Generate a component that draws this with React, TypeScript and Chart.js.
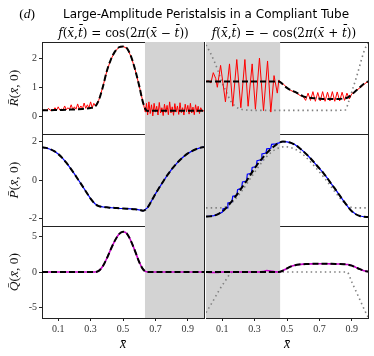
import React, { useEffect, useRef } from "react";
import { Chart, registerables } from "chart.js";
Chart.register(...registerables);

const W = 374;
const H = 356;

// shared x grid
const X25 = [
  0, 0.025, 0.05, 0.075, 0.1, 0.125, 0.15, 0.175, 0.2, 0.225, 0.25, 0.275, 0.3, 0.325,
  0.35, 0.375, 0.4, 0.425, 0.45, 0.475, 0.5, 0.525, 0.55, 0.575, 0.6, 0.625, 0.65,
  0.675, 0.7, 0.725, 0.75, 0.775, 0.8, 0.825, 0.85, 0.875, 0.9, 0.925, 0.95, 0.975, 1,
];
const X_TICKS = [0.1, 0.3, 0.5, 0.7, 0.9];
const R_TICKS = [0, 1, 2];
const P_TICKS = [-2, 0, 2];
const Q_TICKS = [-5, 0, 5];
const R_RANGE = [-0.6, 2.55];
const P_RANGE = [-2.39, 2.39];
const Q_RANGE = [-6.45, 6.45];
const SHADE_LEFT = [0.635, 1];
const SHADE_RIGHT = [0, 0.459];

// ---- left column: f = cos(2π(x − t)) ----
const R_LEFT_BLACK = [
  0.21, 0.21, 0.215, 0.22, 0.22, 0.225, 0.23, 0.235, 0.24, 0.25, 0.26, 0.27, 0.29, 0.33,
  0.55, 1.0, 1.55, 1.95, 2.22, 2.37, 2.4, 2.33, 2.05, 1.6, 1.05, 0.45, 0.19,
  0.2, 0.2, 0.2, 0.2, 0.2, 0.2, 0.2, 0.2, 0.2, 0.2, 0.2, 0.2, 0.2, 0.2,
];
const R_LEFT_RED: [number, number][] = [
  [0, 0.2], [0.015, 0.22], [0.03, 0.2], [0.04, 0.28], [0.05, 0.21], [0.06, 0.23], [0.07, 0.21],
  [0.08, 0.3], [0.09, 0.22], [0.1, 0.33], [0.11, 0.22], [0.12, 0.25], [0.13, 0.23], [0.14, 0.36],
  [0.15, 0.23], [0.16, 0.3], [0.17, 0.24], [0.18, 0.4], [0.19, 0.24], [0.2, 0.33], [0.21, 0.25],
  [0.22, 0.43], [0.23, 0.26], [0.24, 0.36], [0.25, 0.27], [0.26, 0.46], [0.27, 0.28], [0.28, 0.4],
  [0.29, 0.29], [0.3, 0.5], [0.31, 0.3], [0.32, 0.45], [0.33, 0.36],
  [0.35, 0.55], [0.375, 1.0], [0.4, 1.55], [0.425, 1.95], [0.45, 2.22], [0.475, 2.37], [0.5, 2.4],
  [0.525, 2.33], [0.55, 2.05], [0.575, 1.6], [0.6, 1.05], [0.625, 0.45], [0.638, 0.15],
  [0.645, 0.45], [0.652, 0.05], [0.66, 0.5], [0.668, 0.1], [0.676, 0.4], [0.684, 0.02], [0.692, 0.45],
  [0.7, 0.15], [0.708, 0.35], [0.716, 0.05], [0.724, 0.48], [0.732, 0.12], [0.74, 0.3], [0.748, 0.03],
  [0.756, 0.42], [0.764, 0.14], [0.772, 0.38], [0.78, 0.06], [0.788, 0.5], [0.796, 0.12], [0.804, 0.33],
  [0.812, 0.04], [0.82, 0.44], [0.828, 0.15], [0.836, 0.36], [0.844, 0.07], [0.852, 0.47], [0.86, 0.13],
  [0.868, 0.3], [0.876, 0.05], [0.884, 0.42], [0.892, 0.16], [0.9, 0.38], [0.908, 0.08], [0.916, 0.45],
  [0.924, 0.12], [0.932, 0.32], [0.94, 0.06], [0.948, 0.4], [0.956, 0.15], [0.964, 0.35], [0.972, 0.1],
  [0.98, 0.3], [0.99, 0.18], [1, 0.2],
];
const P_LEFT_BLACK = [
  1.7, 1.67, 1.6, 1.5, 1.35, 1.15, 0.9, 0.62, 0.32, 0.0, -0.32, -0.65, -0.97, -1.22, -1.36,
  -1.4, -1.42, -1.44, -1.45, -1.47, -1.48, -1.49, -1.5, -1.52, -1.55, -1.6, -1.45, -1.1, -0.72,
  -0.38, -0.05, 0.27, 0.55, 0.8, 1.03, 1.22, 1.38, 1.5, 1.6, 1.67, 1.72,
];
const P_LEFT_BLUE = P_LEFT_BLACK;
const Q_LEFT_BLACK = [
  0, 0, 0, 0, 0, 0, 0, 0, 0, 0, 0, 0, 0, 0,
  0.15, 0.8, 1.9, 3.2, 4.4, 5.3, 5.65, 5.35, 4.3, 2.9, 1.4, 0.35, 0,
  0, 0, 0, 0, 0, 0, 0, 0, 0, 0, 0, 0, 0, 0,
];
const Q_LEFT_MAGENTA = Q_LEFT_BLACK;

// ---- right column: f = −cos(2π(x + t)) ----
const R_RIGHT_BLACK = [
  1.2, 1.2, 1.2, 1.2, 1.2, 1.2, 1.2, 1.2, 1.2, 1.2, 1.2, 1.2, 1.2, 1.2, 1.2, 1.2, 1.2, 1.2, 1.2,
  1.1, 0.98, 0.9, 0.84, 0.76, 0.69, 0.65, 0.63, 0.62, 0.61, 0.6, 0.6, 0.6, 0.6, 0.6, 0.62,
  0.65, 0.75, 0.88, 1.0, 1.12, 1.2,
];
const R_RIGHT_RED: [number, number][] = [
  [0, 1.2], [0.015, 1.22], [0.03, 1.15], [0.045, 1.5], [0.06, 1.3], [0.07, 1.0], [0.09, 1.75],
  [0.12, 0.5], [0.145, 1.8], [0.165, 0.35], [0.19, 1.95], [0.215, 0.3], [0.24, 1.95], [0.26, 0.35],
  [0.285, 1.8], [0.305, 0.25], [0.33, 2.0], [0.355, 0.2], [0.38, 1.9], [0.4, 0.15], [0.42, 1.4],
  [0.44, 0.8], [0.45, 1.25], [0.46, 1.15], [0.48, 1.1], [0.5, 0.98], [0.52, 0.9], [0.54, 0.85],
  [0.56, 0.8], [0.58, 0.72], [0.6, 0.68], [0.615, 0.55], [0.63, 0.8], [0.645, 0.55], [0.66, 0.85],
  [0.675, 0.52], [0.69, 0.82], [0.705, 0.53], [0.72, 0.85], [0.735, 0.52], [0.75, 0.83], [0.765, 0.53],
  [0.78, 0.85], [0.795, 0.52], [0.81, 0.84], [0.825, 0.53], [0.84, 0.83], [0.855, 0.55], [0.87, 0.8],
  [0.885, 0.6], [0.9, 0.78], [0.93, 0.9], [0.96, 1.02], [0.98, 1.12], [1, 1.2],
];
const R_RIGHT_DOTTED: [number, number][] = [
  [0, 2.45], [0.025, 2.2], [0.05, 1.9], [0.075, 1.55], [0.1, 1.15], [0.125, 0.85], [0.15, 0.55],
  [0.175, 0.38], [0.2, 0.28], [0.25, 0.22], [0.3, 0.21], [0.4, 0.21], [0.5, 0.21], [0.6, 0.21],
  [0.7, 0.21], [0.8, 0.21], [0.86, 0.22], [0.88, 0.5], [0.9, 0.85], [0.93, 1.37], [0.96, 1.95],
  [0.98, 2.3], [1, 2.5],
];
const P_RIGHT_BLACK = [
  -1.9, -1.89, -1.85, -1.77, -1.65, -1.45, -1.2, -0.93, -0.65, -0.35, -0.05, 0.28, 0.6, 0.9,
  1.15, 1.4, 1.6, 1.78, 1.92, 2.0, 1.98, 1.93, 1.83, 1.68, 1.5, 1.3, 1.08, 0.84, 0.6, 0.36,
  0.08, -0.22, -0.5, -0.8, -1.1, -1.38, -1.62, -1.78, -1.87, -1.91, -1.92,
];
const P_RIGHT_BLUE: [number, number][] = [
  [0, -1.9], [0.05, -1.85], [0.08, -1.75], [0.1, -1.68], [0.105, -1.5], [0.13, -1.45], [0.135, -1.2],
  [0.16, -1.15], [0.165, -0.85], [0.19, -0.8], [0.195, -0.5], [0.22, -0.42], [0.225, -0.1], [0.25, -0.05],
  [0.255, 0.3], [0.28, 0.35], [0.285, 0.65], [0.31, 0.7], [0.315, 1.0], [0.34, 1.05], [0.345, 1.35],
  [0.37, 1.4], [0.375, 1.62], [0.4, 1.65], [0.405, 1.85], [0.43, 1.88], [0.45, 1.93], [0.475, 2.0],
  [0.5, 1.98], [0.525, 1.93], [0.55, 1.83], [0.575, 1.68], [0.6, 1.5], [0.625, 1.3], [0.65, 1.08],
  [0.675, 0.84], [0.7, 0.6], [0.725, 0.36], [0.75, 0.08], [0.775, -0.22], [0.8, -0.5], [0.825, -0.8],
  [0.85, -1.1], [0.875, -1.38], [0.9, -1.62], [0.925, -1.78], [0.95, -1.87], [0.975, -1.91], [1, -1.92],
];
const P_RIGHT_DOTTED = [
  -1.45, -1.45, -1.45, -1.45, -1.44, -1.38, -1.25, -1.05, -0.8, -0.52, -0.22, 0.1, 0.4, 0.7,
  0.98, 1.22, 1.42, 1.57, 1.67, 1.72, 1.72, 1.68, 1.6, 1.48, 1.32, 1.12, 0.9, 0.66, 0.42, 0.17,
  -0.1, -0.38, -0.66, -0.92, -1.15, -1.33, -1.43, -1.45, -1.45, -1.45, -1.45,
];
const Q_RIGHT_BLACK = [
  0, 0, 0, 0, 0, 0, 0, 0, 0, 0, 0, 0, 0, 0, 0, 0, 0, 0, 0,
  0.2, 0.5, 0.78, 0.95, 1.05, 1.1, 1.12, 1.14, 1.15, 1.15, 1.15, 1.15, 1.14, 1.13, 1.12, 1.1,
  1.05, 0.9, 0.65, 0.4, 0.18, 0.05,
];
const Q_RIGHT_MAGENTA = [
  0, -0.05, -0.08, -0.05, 0, 0, 0, 0, 0, 0, 0, 0, 0, 0, 0.05, 0.2, 0.15, 0.02, 0,
  0.2, 0.5, 0.78, 0.95, 1.05, 1.1, 1.12, 1.14, 1.15, 1.15, 1.15, 1.15, 1.14, 1.13, 1.12, 1.1,
  1.05, 0.9, 0.65, 0.4, 0.18, 0.05,
];
const Q_RIGHT_DOTTED: [number, number][] = [
  [0, -5.7], [0.04, -4.2], [0.08, -2.6], [0.12, -1.2], [0.155, -0.1], [0.17, 0], [0.3, 0],
  [0.5, 0], [0.7, 0], [0.87, 0], [0.9, -1.4], [0.93, -2.9], [0.96, -4.4], [0.98, -5.4], [1, -6.3],
];

type Pt = { x: number; y: number };
type Kind = "black" | "red" | "blue" | "magenta" | "dotted";
type LineSpec = { pts: Pt[]; kind: Kind };

const zip = (xs: number[], ys: number[]): Pt[] => xs.map((x, i) => ({ x, y: ys[i] }));
const pairs = (p: [number, number][]): Pt[] => p.map(([x, y]) => ({ x, y }));

const STYLE: Record<Kind, any> = {
  black: { borderColor: "#000000", borderWidth: 2, borderDash: [6, 3], order: 1, cubicInterpolationMode: "monotone" },
  red: { borderColor: "#ff0000", borderWidth: 1, order: 3, tension: 0 },
  blue: { borderColor: "#0000ff", borderWidth: 1.2, order: 3, tension: 0 },
  magenta: { borderColor: "#c800c8", borderWidth: 1.6, order: 3, cubicInterpolationMode: "monotone" },
  dotted: { borderColor: "#808080", borderWidth: 1.6, borderDash: [1.5, 3.2], order: 5, cubicInterpolationMode: "monotone" },
};

const COLS = [
  { L: 42, R: 204 },
  { L: 206, R: 368 },
];
const ROWS = [
  { T: 42, B: 134 },
  { T: 134, B: 226 },
  { T: 226, B: 318 },
];

type PanelProps = {
  col: number;
  row: number;
  range: number[];
  yTicks: number[];
  shade: number[];
  lines: LineSpec[];
};

const TICK_FONT = { family: "'Liberation Serif', serif", size: 10 };
const SPINE = "#222222";

function Panel({ col, row, range, yTicks, shade, lines }: PanelProps) {
  const ref = useRef<HTMLCanvasElement>(null);
  useEffect(() => {
    const showY = col === 0;
    const showX = row === 2;
    const yw = showY ? 30 : 0;
    const xh = showX ? 24 : 0;
    const { L, R } = COLS[col];
    const { T, B } = ROWS[row];
    const datasets: any[] = [
      {
        data: [
          { x: shade[0], y: range[1] },
          { x: shade[1], y: range[1] },
        ],
        fill: "start",
        backgroundColor: "#d3d3d3",
        borderColor: "rgba(0,0,0,0)",
        borderWidth: 0,
        pointRadius: 0,
        order: 10,
        xAxisID: "x",
        yAxisID: "y",
      },
      ...lines.map((l) => ({
        data: l.pts,
        fill: false,
        pointRadius: 0,
        xAxisID: "x",
        yAxisID: "y",
        ...STYLE[l.kind],
      })),
    ];
    const chart = new Chart(ref.current as HTMLCanvasElement, {
      type: "line",
      data: { datasets },
      options: {
        animation: false,
        responsive: false,
        devicePixelRatio: 1,
        events: [],
        layout: {
          padding: { left: L - yw, top: T, right: W - R, bottom: H - B - xh },
        },
        plugins: { legend: { display: false }, tooltip: { enabled: false } },
        scales: {
          x: {
            type: "linear",
            position: "bottom",
            min: 0,
            max: 1,
            afterBuildTicks: (s: any) => {
              s.ticks = X_TICKS.map((v) => ({ value: v }));
            },
            afterFit: (s: any) => {
              s.height = xh;
            },
            ticks: { display: showX, font: TICK_FONT, color: "#333", padding: 2, maxRotation: 0, autoSkip: false },
            grid: { display: showX, drawOnChartArea: false, drawTicks: showX, tickLength: 3, color: SPINE },
            border: { display: true, color: SPINE, width: 1 },
          },
          x2: {
            type: "linear",
            position: "top",
            min: 0,
            max: 1,
            ticks: { display: false },
            grid: { display: false, drawTicks: false },
            border: { display: true, color: SPINE, width: 1 },
            afterFit: (s: any) => {
              s.height = 0;
            },
          },
          y: {
            type: "linear",
            position: "left",
            min: range[0],
            max: range[1],
            afterBuildTicks: (s: any) => {
              s.ticks = yTicks.map((v) => ({ value: v }));
            },
            afterFit: (s: any) => {
              s.width = yw;
            },
            ticks: { display: showY, font: TICK_FONT, color: "#333", padding: 2 },
            grid: { display: showY, drawOnChartArea: false, drawTicks: showY, tickLength: 3, color: SPINE },
            border: { display: true, color: SPINE, width: 1 },
          },
          y2: {
            type: "linear",
            position: "right",
            min: range[0],
            max: range[1],
            ticks: { display: false },
            grid: { display: false, drawTicks: false },
            border: { display: true, color: SPINE, width: 1 },
            afterFit: (s: any) => {
              s.width = 0;
            },
          },
        },
      } as any,
    });
    return () => chart.destroy();
  }, []);
  return (
    <canvas
      ref={ref}
      width={W}
      height={H}
      style={{ position: "absolute", left: 0, top: 0, width: W, height: H }}
    />
  );
}

const serif = "'Liberation Serif', 'DejaVu Serif', serif";
const mathSerif = "'DejaVu Serif', 'Liberation Serif', serif";

function YLabel({ sym, cy }: { sym: string; cy: number }) {
  return (
    <div
      style={{
        position: "absolute",
        left: 14,
        top: cy,
        transform: "translate(-50%, -50%) rotate(-90deg)",
        fontFamily: serif,
        fontSize: 13.5,
        whiteSpace: "nowrap",
        color: "#111",
      }}
    >
      <i>{sym + "\u0304"}</i>(<i>{"x\u0304"}</i>, 0)
    </div>
  );
}

function Centered({ x, y, children, style }: any) {
  return (
    <div
      style={{
        position: "absolute",
        left: x,
        top: y,
        transform: "translate(-50%, -50%)",
        whiteSpace: "nowrap",
        ...style,
      }}
    >
      {children}
    </div>
  );
}

export default function App() {
  const xb = "x\u0304";
  const tb = "t\u0304";
  return (
    <div
      style={{
        position: "fixed",
        left: 0,
        top: 0,
        width: W,
        height: H,
        background: "#fff",
        overflow: "hidden",
      }}
    >
      <Panel col={0} row={0} range={R_RANGE} yTicks={R_TICKS} shade={SHADE_LEFT}
        lines={[
          { pts: zip(X25, R_LEFT_BLACK), kind: "black" },
          { pts: pairs(R_LEFT_RED), kind: "red" },
        ]} />
      <Panel col={1} row={0} range={R_RANGE} yTicks={R_TICKS} shade={SHADE_RIGHT}
        lines={[
          { pts: zip(X25, R_RIGHT_BLACK), kind: "black" },
          { pts: pairs(R_RIGHT_RED), kind: "red" },
          { pts: pairs(R_RIGHT_DOTTED), kind: "dotted" },
        ]} />
      <Panel col={0} row={1} range={P_RANGE} yTicks={P_TICKS} shade={SHADE_LEFT}
        lines={[
          { pts: zip(X25, P_LEFT_BLACK), kind: "black" },
          { pts: zip(X25, P_LEFT_BLUE), kind: "blue" },
        ]} />
      <Panel col={1} row={1} range={P_RANGE} yTicks={P_TICKS} shade={SHADE_RIGHT}
        lines={[
          { pts: zip(X25, P_RIGHT_BLACK), kind: "black" },
          { pts: pairs(P_RIGHT_BLUE), kind: "blue" },
          { pts: zip(X25, P_RIGHT_DOTTED), kind: "dotted" },
        ]} />
      <Panel col={0} row={2} range={Q_RANGE} yTicks={Q_TICKS} shade={SHADE_LEFT}
        lines={[
          { pts: zip(X25, Q_LEFT_BLACK), kind: "black" },
          { pts: zip(X25, Q_LEFT_MAGENTA), kind: "magenta" },
        ]} />
      <Panel col={1} row={2} range={Q_RANGE} yTicks={Q_TICKS} shade={SHADE_RIGHT}
        lines={[
          { pts: zip(X25, Q_RIGHT_BLACK), kind: "black" },
          { pts: zip(X25, Q_RIGHT_MAGENTA), kind: "magenta" },
          { pts: pairs(Q_RIGHT_DOTTED), kind: "dotted" },
        ]} />

      <Centered x={27} y={14} style={{ fontFamily: serif, fontSize: 13.5 }}>
        (<i>d</i>)
      </Centered>
      <Centered x={206} y={14} style={{ fontFamily: "'DejaVu Sans', sans-serif", fontSize: 12 }}>
        Large-Amplitude Peristalsis in a Compliant Tube
      </Centered>
      <Centered x={123.5} y={33} style={{ fontFamily: mathSerif, fontSize: 12 }}>
        <i>f</i>(<i>{xb}</i>,<i>{tb}</i>) = cos(2<i>π</i>(<i>{xb}</i> − <i>{tb}</i>))
      </Centered>
      <Centered x={284} y={33} style={{ fontFamily: mathSerif, fontSize: 12 }}>
        <i>f</i>(<i>{xb}</i>,<i>{tb}</i>) = − cos(2<i>π</i>(<i>{xb}</i> + <i>{tb}</i>))
      </Centered>

      <YLabel sym="R" cy={88} />
      <YLabel sym="P" cy={180} />
      <YLabel sym="Q" cy={272} />

      <Centered x={123} y={344} style={{ fontFamily: serif, fontSize: 14 }}>
        <i>{xb}</i>
      </Centered>
      <Centered x={287} y={344} style={{ fontFamily: serif, fontSize: 14 }}>
        <i>{xb}</i>
      </Centered>
    </div>
  );
}
